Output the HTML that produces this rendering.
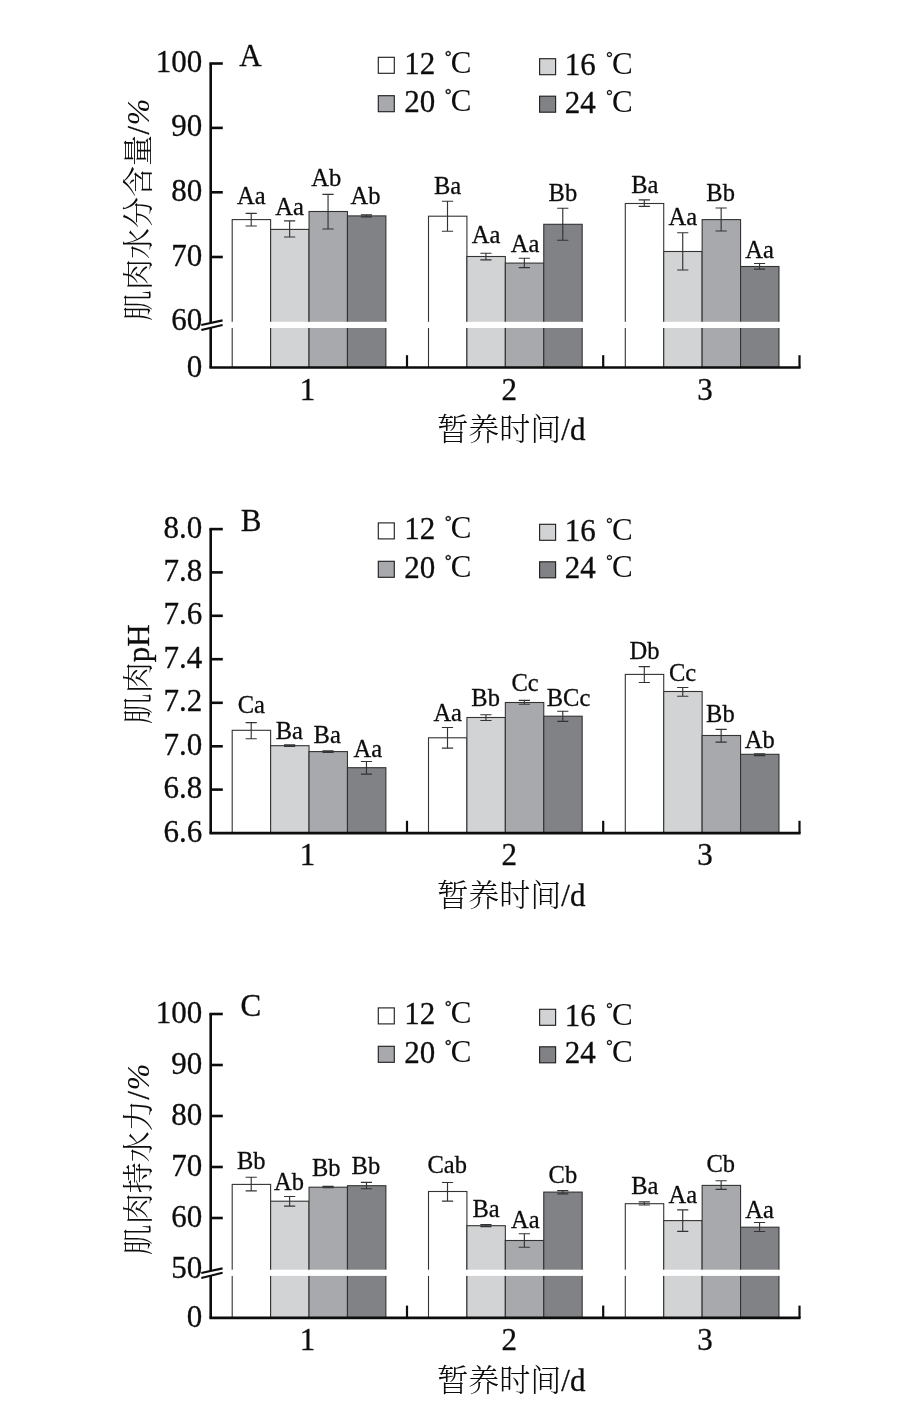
<!DOCTYPE html>
<html lang="zh-CN">
<head>
<meta charset="utf-8">
<title>暂养时间</title>
<style>
html,body{margin:0;padding:0;background:#fff}
svg{display:block}
text{font-family:'Liberation Serif','Noto Serif CJK SC',serif;fill:#0d0d0d;stroke:#0d0d0d;stroke-width:0.3px}
.cj{font-weight:300;stroke:none}
</style>
</head>
<body>
<svg width="907" height="1428" viewBox="0 0 907 1428">
<rect width="907" height="1428" fill="#fff"/>
<g id="chartA">
<rect x="232.2" y="219.6" width="38.42" height="147.9" fill="#ffffff" stroke="#333333" stroke-width="1.1"/>
<rect x="270.62" y="229.4" width="38.42" height="138.1" fill="#d1d3d4" stroke="#333333" stroke-width="1.1"/>
<rect x="309.04" y="211.5" width="38.42" height="156" fill="#a7a9ac" stroke="#333333" stroke-width="1.1"/>
<rect x="347.46" y="215.9" width="38.42" height="151.6" fill="#808285" stroke="#333333" stroke-width="1.1"/>
<rect x="428.5" y="216.2" width="38.42" height="151.3" fill="#ffffff" stroke="#333333" stroke-width="1.1"/>
<rect x="466.92" y="256.5" width="38.42" height="111" fill="#d1d3d4" stroke="#333333" stroke-width="1.1"/>
<rect x="505.34" y="263.1" width="38.42" height="104.4" fill="#a7a9ac" stroke="#333333" stroke-width="1.1"/>
<rect x="543.76" y="224.3" width="38.42" height="143.2" fill="#808285" stroke="#333333" stroke-width="1.1"/>
<rect x="625.3" y="203.5" width="38.42" height="164" fill="#ffffff" stroke="#333333" stroke-width="1.1"/>
<rect x="663.72" y="251.5" width="38.42" height="116" fill="#d1d3d4" stroke="#333333" stroke-width="1.1"/>
<rect x="702.14" y="219.6" width="38.42" height="147.9" fill="#a7a9ac" stroke="#333333" stroke-width="1.1"/>
<rect x="740.56" y="266.5" width="38.42" height="101" fill="#808285" stroke="#333333" stroke-width="1.1"/>
<rect x="225" y="321.8" width="570" height="6.2" fill="#fff"/>
<path d="M245.61 213.4H256.81M245.61 226H256.81M251.21 213.4V226" fill="none" stroke="#333333" stroke-width="1.15"/>
<path d="M284.03 220.9H295.23M284.03 237H295.23M289.63 220.9V237" fill="none" stroke="#333333" stroke-width="1.15"/>
<path d="M322.45 194.3H333.65M322.45 229H333.65M328.05 194.3V229" fill="none" stroke="#333333" stroke-width="1.15"/>
<path d="M360.87 214.9H372.07M360.87 216.8H372.07M366.47 214.9V216.8" fill="none" stroke="#333333" stroke-width="1.15"/>
<path d="M441.91 201.2H453.11M441.91 231.2H453.11M447.51 201.2V231.2" fill="none" stroke="#333333" stroke-width="1.15"/>
<path d="M480.33 253.2H491.53M480.33 259.9H491.53M485.93 253.2V259.9" fill="none" stroke="#333333" stroke-width="1.15"/>
<path d="M518.75 258.2H529.95M518.75 267.6H529.95M524.35 258.2V267.6" fill="none" stroke="#333333" stroke-width="1.15"/>
<path d="M557.17 208.2H568.37M557.17 240.2H568.37M562.77 208.2V240.2" fill="none" stroke="#333333" stroke-width="1.15"/>
<path d="M638.71 199.9H649.91M638.71 206.3H649.91M644.31 199.9V206.3" fill="none" stroke="#333333" stroke-width="1.15"/>
<path d="M677.13 232.7H688.33M677.13 270H688.33M682.73 232.7V270" fill="none" stroke="#333333" stroke-width="1.15"/>
<path d="M715.55 208H726.75M715.55 231H726.75M721.15 208V231" fill="none" stroke="#333333" stroke-width="1.15"/>
<path d="M753.97 263.5H765.17M753.97 269.1H765.17M759.57 263.5V269.1" fill="none" stroke="#333333" stroke-width="1.15"/>
<path d="M210.7 63.5V322.9M210.7 327.8V367.5" stroke="#0d0d0d" stroke-width="2.6" fill="none"/>
<path d="M201.3 325L222.6 320.4" stroke="#0d0d0d" stroke-width="2.1" fill="none"/>
<path d="M201.3 330L222.6 324.9" stroke="#0d0d0d" stroke-width="2.1" fill="none"/>
<path d="M209.4 367.5H800.6" stroke="#0d0d0d" stroke-width="2.6" fill="none"/>
<path d="M209.4 63.5H222.8" stroke="#0d0d0d" stroke-width="2.6" fill="none"/>
<path d="M210.7 127.9H222.8" stroke="#0d0d0d" stroke-width="2.6" fill="none"/>
<path d="M210.7 192.3H222.8" stroke="#0d0d0d" stroke-width="2.6" fill="none"/>
<path d="M210.7 257H222.8" stroke="#0d0d0d" stroke-width="2.6" fill="none"/>
<path d="M407 355.2V367.5" stroke="#0d0d0d" stroke-width="2.2" fill="none"/>
<path d="M603.2 355.2V367.5" stroke="#0d0d0d" stroke-width="2.2" fill="none"/>
<path d="M799.5 355.2V367.5" stroke="#0d0d0d" stroke-width="2.2" fill="none"/>
<text x="202.2" y="72" text-anchor="end" font-size="31">100</text>
<text x="202.2" y="136.4" text-anchor="end" font-size="31">90</text>
<text x="202.2" y="200.8" text-anchor="end" font-size="31">80</text>
<text x="202.2" y="265.5" text-anchor="end" font-size="31">70</text>
<text x="202.2" y="329.6" text-anchor="end" font-size="31">60</text>
<text x="202.2" y="376.8" text-anchor="end" font-size="31">0</text>
<text x="239.3" y="65.6" font-size="31">A</text>
<text x="307.4" y="399.7" text-anchor="middle" font-size="31">1</text>
<text x="509.3" y="399.7" text-anchor="middle" font-size="31">2</text>
<text x="705" y="399.7" text-anchor="middle" font-size="31">3</text>
<text x="511.4" y="440.3" text-anchor="middle" font-size="31"><tspan class="cj">暂养时间</tspan>/d</text>
<text transform="translate(148.7 209.8) rotate(-90)" text-anchor="middle" font-size="31"><tspan class="cj">肌肉水分含量</tspan><tspan dx="0.6">/</tspan><tspan font-style="italic" font-size="32" dx="0.6" stroke="none">%</tspan></text>
<rect x="378.3" y="57.3" width="16" height="16" fill="#ffffff" stroke="#222" stroke-width="1.15"/>
<text x="404.2" y="73.7" font-size="31">12 <tspan font-size="16" dx="2" dy="-12.1" stroke-width="0.45">°</tspan><tspan dx="-0.7" dy="11.2" stroke="none">C</tspan></text>
<rect x="539.6" y="58.7" width="16" height="16" fill="#d1d3d4" stroke="#222" stroke-width="1.15"/>
<text x="564.8" y="75.1" font-size="31">16 <tspan font-size="16" dx="2.7" dy="-12.1" stroke-width="0.45">°</tspan><tspan dx="-0.7" dy="11.2" stroke="none">C</tspan></text>
<rect x="378.3" y="95.7" width="16" height="16" fill="#a7a9ac" stroke="#222" stroke-width="1.15"/>
<text x="404.2" y="112.1" font-size="31">20 <tspan font-size="16" dx="2" dy="-12.1" stroke-width="0.45">°</tspan><tspan dx="-0.7" dy="11.2" stroke="none">C</tspan></text>
<rect x="539.6" y="96.2" width="16" height="16" fill="#808285" stroke="#222" stroke-width="1.15"/>
<text x="564.8" y="112.6" font-size="31">24 <tspan font-size="16" dx="2.7" dy="-12.1" stroke-width="0.45">°</tspan><tspan dx="-0.7" dy="11.2" stroke="none">C</tspan></text>
<text x="251.3" y="203.5" text-anchor="middle" font-size="24.5">Aa</text>
<text x="289.5" y="214.7" text-anchor="middle" font-size="24.5">Aa</text>
<text x="326.3" y="186.2" text-anchor="middle" font-size="24.5">Ab</text>
<text x="365.6" y="204.4" text-anchor="middle" font-size="24.5">Ab</text>
<text x="447.5" y="193.7" text-anchor="middle" font-size="24.5">Ba</text>
<text x="486.1" y="243.4" text-anchor="middle" font-size="24.5">Aa</text>
<text x="525" y="251.5" text-anchor="middle" font-size="24.5">Aa</text>
<text x="562.9" y="200.7" text-anchor="middle" font-size="24.5">Bb</text>
<text x="644.8" y="192.8" text-anchor="middle" font-size="24.5">Ba</text>
<text x="682.8" y="224.7" text-anchor="middle" font-size="24.5">Aa</text>
<text x="720.6" y="200.9" text-anchor="middle" font-size="24.5">Bb</text>
<text x="759.6" y="258.4" text-anchor="middle" font-size="24.5">Aa</text>
</g>
<g id="chartB">
<rect x="232.2" y="730.3" width="38.42" height="102.8" fill="#ffffff" stroke="#333333" stroke-width="1.1"/>
<rect x="270.62" y="745.7" width="38.42" height="87.4" fill="#d1d3d4" stroke="#333333" stroke-width="1.1"/>
<rect x="309.04" y="751.6" width="38.42" height="81.5" fill="#a7a9ac" stroke="#333333" stroke-width="1.1"/>
<rect x="347.46" y="767.7" width="38.42" height="65.4" fill="#808285" stroke="#333333" stroke-width="1.1"/>
<rect x="428.5" y="737.8" width="38.42" height="95.3" fill="#ffffff" stroke="#333333" stroke-width="1.1"/>
<rect x="466.92" y="717.5" width="38.42" height="115.6" fill="#d1d3d4" stroke="#333333" stroke-width="1.1"/>
<rect x="505.34" y="702.5" width="38.42" height="130.6" fill="#a7a9ac" stroke="#333333" stroke-width="1.1"/>
<rect x="543.76" y="716.2" width="38.42" height="116.9" fill="#808285" stroke="#333333" stroke-width="1.1"/>
<rect x="625.3" y="674.4" width="38.42" height="158.7" fill="#ffffff" stroke="#333333" stroke-width="1.1"/>
<rect x="663.72" y="691.5" width="38.42" height="141.6" fill="#d1d3d4" stroke="#333333" stroke-width="1.1"/>
<rect x="702.14" y="735.5" width="38.42" height="97.6" fill="#a7a9ac" stroke="#333333" stroke-width="1.1"/>
<rect x="740.56" y="754.3" width="38.42" height="78.8" fill="#808285" stroke="#333333" stroke-width="1.1"/>
<path d="M245.61 722.6H256.81M245.61 738.7H256.81M251.21 722.6V738.7" fill="none" stroke="#333333" stroke-width="1.15"/>
<path d="M284.03 744.9H295.23M284.03 746.4H295.23M289.63 744.9V746.4" fill="none" stroke="#333333" stroke-width="1.15"/>
<path d="M322.45 750.9H333.65M322.45 752.5H333.65M328.05 750.9V752.5" fill="none" stroke="#333333" stroke-width="1.15"/>
<path d="M360.87 761.5H372.07M360.87 774.1H372.07M366.47 761.5V774.1" fill="none" stroke="#333333" stroke-width="1.15"/>
<path d="M441.91 727.5H453.11M441.91 748.1H453.11M447.51 727.5V748.1" fill="none" stroke="#333333" stroke-width="1.15"/>
<path d="M480.33 714.7H491.53M480.33 720.5H491.53M485.93 714.7V720.5" fill="none" stroke="#333333" stroke-width="1.15"/>
<path d="M518.75 700.3H529.95M518.75 704.2H529.95M524.35 700.3V704.2" fill="none" stroke="#333333" stroke-width="1.15"/>
<path d="M557.17 711.2H568.37M557.17 721.3H568.37M562.77 711.2V721.3" fill="none" stroke="#333333" stroke-width="1.15"/>
<path d="M638.71 666.6H649.91M638.71 682.5H649.91M644.31 666.6V682.5" fill="none" stroke="#333333" stroke-width="1.15"/>
<path d="M677.13 687.5H688.33M677.13 696.2H688.33M682.73 687.5V696.2" fill="none" stroke="#333333" stroke-width="1.15"/>
<path d="M715.55 729.3H726.75M715.55 742.1H726.75M721.15 729.3V742.1" fill="none" stroke="#333333" stroke-width="1.15"/>
<path d="M753.97 753.7H765.17M753.97 755.6H765.17M759.57 753.7V755.6" fill="none" stroke="#333333" stroke-width="1.15"/>
<path d="M210.7 529.1V833.1" stroke="#0d0d0d" stroke-width="2.6" fill="none"/>
<path d="M209.4 833.1H800.6" stroke="#0d0d0d" stroke-width="2.6" fill="none"/>
<path d="M209.4 529.1H222.8" stroke="#0d0d0d" stroke-width="2.6" fill="none"/>
<path d="M210.7 572.4H222.8" stroke="#0d0d0d" stroke-width="2.6" fill="none"/>
<path d="M210.7 615.8H222.8" stroke="#0d0d0d" stroke-width="2.6" fill="none"/>
<path d="M210.7 659.2H222.8" stroke="#0d0d0d" stroke-width="2.6" fill="none"/>
<path d="M210.7 702.8H222.8" stroke="#0d0d0d" stroke-width="2.6" fill="none"/>
<path d="M210.7 746.3H222.8" stroke="#0d0d0d" stroke-width="2.6" fill="none"/>
<path d="M210.7 789.6H222.8" stroke="#0d0d0d" stroke-width="2.6" fill="none"/>
<path d="M407 820.8V833.1" stroke="#0d0d0d" stroke-width="2.2" fill="none"/>
<path d="M603.2 820.8V833.1" stroke="#0d0d0d" stroke-width="2.2" fill="none"/>
<path d="M799.5 820.8V833.1" stroke="#0d0d0d" stroke-width="2.2" fill="none"/>
<text x="202.2" y="537.6" text-anchor="end" font-size="31">8.0</text>
<text x="202.2" y="580.9" text-anchor="end" font-size="31">7.8</text>
<text x="202.2" y="624.3" text-anchor="end" font-size="31">7.6</text>
<text x="202.2" y="667.7" text-anchor="end" font-size="31">7.4</text>
<text x="202.2" y="711.3" text-anchor="end" font-size="31">7.2</text>
<text x="202.2" y="754.8" text-anchor="end" font-size="31">7.0</text>
<text x="202.2" y="798.1" text-anchor="end" font-size="31">6.8</text>
<text x="202.2" y="842.1" text-anchor="end" font-size="31">6.6</text>
<text x="240.7" y="531.2" font-size="31">B</text>
<text x="307.4" y="865.3" text-anchor="middle" font-size="31">1</text>
<text x="509.3" y="865.3" text-anchor="middle" font-size="31">2</text>
<text x="705" y="865.3" text-anchor="middle" font-size="31">3</text>
<text x="511.4" y="905.9" text-anchor="middle" font-size="31"><tspan class="cj">暂养时间</tspan>/d</text>
<text transform="translate(148.7 674.3) rotate(-90)" text-anchor="middle" font-size="31"><tspan class="cj">肌肉</tspan>pH</text>
<rect x="378.3" y="522.9" width="16" height="16" fill="#ffffff" stroke="#222" stroke-width="1.15"/>
<text x="404.2" y="539.3" font-size="31">12 <tspan font-size="16" dx="2" dy="-12.1" stroke-width="0.45">°</tspan><tspan dx="-0.7" dy="11.2" stroke="none">C</tspan></text>
<rect x="539.6" y="524.3" width="16" height="16" fill="#d1d3d4" stroke="#222" stroke-width="1.15"/>
<text x="564.8" y="540.7" font-size="31">16 <tspan font-size="16" dx="2.7" dy="-12.1" stroke-width="0.45">°</tspan><tspan dx="-0.7" dy="11.2" stroke="none">C</tspan></text>
<rect x="378.3" y="561.3" width="16" height="16" fill="#a7a9ac" stroke="#222" stroke-width="1.15"/>
<text x="404.2" y="577.7" font-size="31">20 <tspan font-size="16" dx="2" dy="-12.1" stroke-width="0.45">°</tspan><tspan dx="-0.7" dy="11.2" stroke="none">C</tspan></text>
<rect x="539.6" y="561.8" width="16" height="16" fill="#808285" stroke="#222" stroke-width="1.15"/>
<text x="564.8" y="578.2" font-size="31">24 <tspan font-size="16" dx="2.7" dy="-12.1" stroke-width="0.45">°</tspan><tspan dx="-0.7" dy="11.2" stroke="none">C</tspan></text>
<text x="251.3" y="713.4" text-anchor="middle" font-size="24.5">Ca</text>
<text x="289.4" y="738.5" text-anchor="middle" font-size="24.5">Ba</text>
<text x="327.2" y="743.4" text-anchor="middle" font-size="24.5">Ba</text>
<text x="367.9" y="756.5" text-anchor="middle" font-size="24.5">Aa</text>
<text x="447.7" y="720.9" text-anchor="middle" font-size="24.5">Aa</text>
<text x="485.6" y="705.9" text-anchor="middle" font-size="24.5">Bb</text>
<text x="525" y="690.9" text-anchor="middle" font-size="24.5">Cc</text>
<text x="568.5" y="705.9" text-anchor="middle" font-size="24.5">BCc</text>
<text x="644.5" y="659.4" text-anchor="middle" font-size="24.5">Db</text>
<text x="682.5" y="681" text-anchor="middle" font-size="24.5">Cc</text>
<text x="720.4" y="722.4" text-anchor="middle" font-size="24.5">Bb</text>
<text x="759.7" y="747.5" text-anchor="middle" font-size="24.5">Ab</text>
</g>
<g id="chartC">
<rect x="232.2" y="1184.4" width="38.42" height="133.5" fill="#ffffff" stroke="#333333" stroke-width="1.1"/>
<rect x="270.62" y="1201.2" width="38.42" height="116.7" fill="#d1d3d4" stroke="#333333" stroke-width="1.1"/>
<rect x="309.04" y="1187.2" width="38.42" height="130.7" fill="#a7a9ac" stroke="#333333" stroke-width="1.1"/>
<rect x="347.46" y="1185.7" width="38.42" height="132.2" fill="#808285" stroke="#333333" stroke-width="1.1"/>
<rect x="428.5" y="1191.5" width="38.42" height="126.4" fill="#ffffff" stroke="#333333" stroke-width="1.1"/>
<rect x="466.92" y="1225.7" width="38.42" height="92.2" fill="#d1d3d4" stroke="#333333" stroke-width="1.1"/>
<rect x="505.34" y="1240.5" width="38.42" height="77.4" fill="#a7a9ac" stroke="#333333" stroke-width="1.1"/>
<rect x="543.76" y="1192.1" width="38.42" height="125.8" fill="#808285" stroke="#333333" stroke-width="1.1"/>
<rect x="625.3" y="1203.7" width="38.42" height="114.2" fill="#ffffff" stroke="#333333" stroke-width="1.1"/>
<rect x="663.72" y="1220.6" width="38.42" height="97.3" fill="#d1d3d4" stroke="#333333" stroke-width="1.1"/>
<rect x="702.14" y="1185.4" width="38.42" height="132.5" fill="#a7a9ac" stroke="#333333" stroke-width="1.1"/>
<rect x="740.56" y="1227.2" width="38.42" height="90.7" fill="#808285" stroke="#333333" stroke-width="1.1"/>
<rect x="225" y="1269.7" width="570" height="6.2" fill="#fff"/>
<path d="M245.61 1177.2H256.81M245.61 1190.9H256.81M251.21 1177.2V1190.9" fill="none" stroke="#333333" stroke-width="1.15"/>
<path d="M284.03 1196.5H295.23M284.03 1206.1H295.23M289.63 1196.5V1206.1" fill="none" stroke="#333333" stroke-width="1.15"/>
<path d="M322.45 1186.4H333.65M322.45 1187.7H333.65M328.05 1186.4V1187.7" fill="none" stroke="#333333" stroke-width="1.15"/>
<path d="M360.87 1182.3H372.07M360.87 1188.7H372.07M366.47 1182.3V1188.7" fill="none" stroke="#333333" stroke-width="1.15"/>
<path d="M441.91 1182.5H453.11M441.91 1201.1H453.11M447.51 1182.5V1201.1" fill="none" stroke="#333333" stroke-width="1.15"/>
<path d="M480.33 1224.5H491.53M480.33 1226.6H491.53M485.93 1224.5V1226.6" fill="none" stroke="#333333" stroke-width="1.15"/>
<path d="M518.75 1233.7H529.95M518.75 1247.2H529.95M524.35 1233.7V1247.2" fill="none" stroke="#333333" stroke-width="1.15"/>
<path d="M557.17 1190.6H568.37M557.17 1193.8H568.37M562.77 1190.6V1193.8" fill="none" stroke="#333333" stroke-width="1.15"/>
<path d="M638.71 1201.9H649.91M638.71 1205H649.91M644.31 1201.9V1205" fill="none" stroke="#333333" stroke-width="1.15"/>
<path d="M677.13 1209.9H688.33M677.13 1231.3H688.33M682.73 1209.9V1231.3" fill="none" stroke="#333333" stroke-width="1.15"/>
<path d="M715.55 1180.7H726.75M715.55 1189.3H726.75M721.15 1180.7V1189.3" fill="none" stroke="#333333" stroke-width="1.15"/>
<path d="M753.97 1222.5H765.17M753.97 1231.5H765.17M759.57 1222.5V1231.5" fill="none" stroke="#333333" stroke-width="1.15"/>
<path d="M210.7 1014V1270.9M210.7 1275.7V1317.9" stroke="#0d0d0d" stroke-width="2.6" fill="none"/>
<path d="M201.3 1273L222.6 1268.4" stroke="#0d0d0d" stroke-width="2.1" fill="none"/>
<path d="M201.3 1277.9L222.6 1272.8" stroke="#0d0d0d" stroke-width="2.1" fill="none"/>
<path d="M209.4 1317.9H800.6" stroke="#0d0d0d" stroke-width="2.6" fill="none"/>
<path d="M209.4 1014H222.8" stroke="#0d0d0d" stroke-width="2.6" fill="none"/>
<path d="M210.7 1065H222.8" stroke="#0d0d0d" stroke-width="2.6" fill="none"/>
<path d="M210.7 1116H222.8" stroke="#0d0d0d" stroke-width="2.6" fill="none"/>
<path d="M210.7 1167H222.8" stroke="#0d0d0d" stroke-width="2.6" fill="none"/>
<path d="M210.7 1218H222.8" stroke="#0d0d0d" stroke-width="2.6" fill="none"/>
<path d="M407 1305.6V1317.9" stroke="#0d0d0d" stroke-width="2.2" fill="none"/>
<path d="M603.2 1305.6V1317.9" stroke="#0d0d0d" stroke-width="2.2" fill="none"/>
<path d="M799.5 1305.6V1317.9" stroke="#0d0d0d" stroke-width="2.2" fill="none"/>
<text x="202.2" y="1022.5" text-anchor="end" font-size="31">100</text>
<text x="202.2" y="1073.5" text-anchor="end" font-size="31">90</text>
<text x="202.2" y="1124.5" text-anchor="end" font-size="31">80</text>
<text x="202.2" y="1175.5" text-anchor="end" font-size="31">70</text>
<text x="202.2" y="1226.5" text-anchor="end" font-size="31">60</text>
<text x="202.2" y="1277.5" text-anchor="end" font-size="31">50</text>
<text x="202.2" y="1327.1" text-anchor="end" font-size="31">0</text>
<text x="240.5" y="1016.1" font-size="31">C</text>
<text x="307.4" y="1350.1" text-anchor="middle" font-size="31">1</text>
<text x="509.3" y="1350.1" text-anchor="middle" font-size="31">2</text>
<text x="705" y="1350.1" text-anchor="middle" font-size="31">3</text>
<text x="511.4" y="1390.7" text-anchor="middle" font-size="31"><tspan class="cj">暂养时间</tspan>/d</text>
<text transform="translate(148.7 1159.4) rotate(-90)" text-anchor="middle" font-size="31"><tspan class="cj">肌肉持水力</tspan><tspan dx="0.6">/</tspan><tspan font-style="italic" font-size="32" dx="0.6" stroke="none">%</tspan></text>
<rect x="378.3" y="1007.9" width="16" height="16" fill="#ffffff" stroke="#222" stroke-width="1.15"/>
<text x="404.2" y="1024.3" font-size="31">12 <tspan font-size="16" dx="2" dy="-12.1" stroke-width="0.45">°</tspan><tspan dx="-0.7" dy="11.2" stroke="none">C</tspan></text>
<rect x="539.6" y="1009.3" width="16" height="16" fill="#d1d3d4" stroke="#222" stroke-width="1.15"/>
<text x="564.8" y="1025.7" font-size="31">16 <tspan font-size="16" dx="2.7" dy="-12.1" stroke-width="0.45">°</tspan><tspan dx="-0.7" dy="11.2" stroke="none">C</tspan></text>
<rect x="378.3" y="1046.3" width="16" height="16" fill="#a7a9ac" stroke="#222" stroke-width="1.15"/>
<text x="404.2" y="1062.7" font-size="31">20 <tspan font-size="16" dx="2" dy="-12.1" stroke-width="0.45">°</tspan><tspan dx="-0.7" dy="11.2" stroke="none">C</tspan></text>
<rect x="539.6" y="1046.8" width="16" height="16" fill="#808285" stroke="#222" stroke-width="1.15"/>
<text x="564.8" y="1063.2" font-size="31">24 <tspan font-size="16" dx="2.7" dy="-12.1" stroke-width="0.45">°</tspan><tspan dx="-0.7" dy="11.2" stroke="none">C</tspan></text>
<text x="251.3" y="1168.8" text-anchor="middle" font-size="24.5">Bb</text>
<text x="289" y="1190.4" text-anchor="middle" font-size="24.5">Ab</text>
<text x="326.2" y="1176.3" text-anchor="middle" font-size="24.5">Bb</text>
<text x="365.9" y="1173.5" text-anchor="middle" font-size="24.5">Bb</text>
<text x="447.2" y="1173.4" text-anchor="middle" font-size="24.5">Cab</text>
<text x="486.1" y="1216.9" text-anchor="middle" font-size="24.5">Ba</text>
<text x="525.4" y="1227.5" text-anchor="middle" font-size="24.5">Aa</text>
<text x="562.9" y="1183.1" text-anchor="middle" font-size="24.5">Cb</text>
<text x="644.8" y="1194.4" text-anchor="middle" font-size="24.5">Ba</text>
<text x="682.8" y="1203.2" text-anchor="middle" font-size="24.5">Aa</text>
<text x="720.8" y="1171.9" text-anchor="middle" font-size="24.5">Cb</text>
<text x="759.6" y="1217.8" text-anchor="middle" font-size="24.5">Aa</text>
</g>
</svg>
</body>
</html>
